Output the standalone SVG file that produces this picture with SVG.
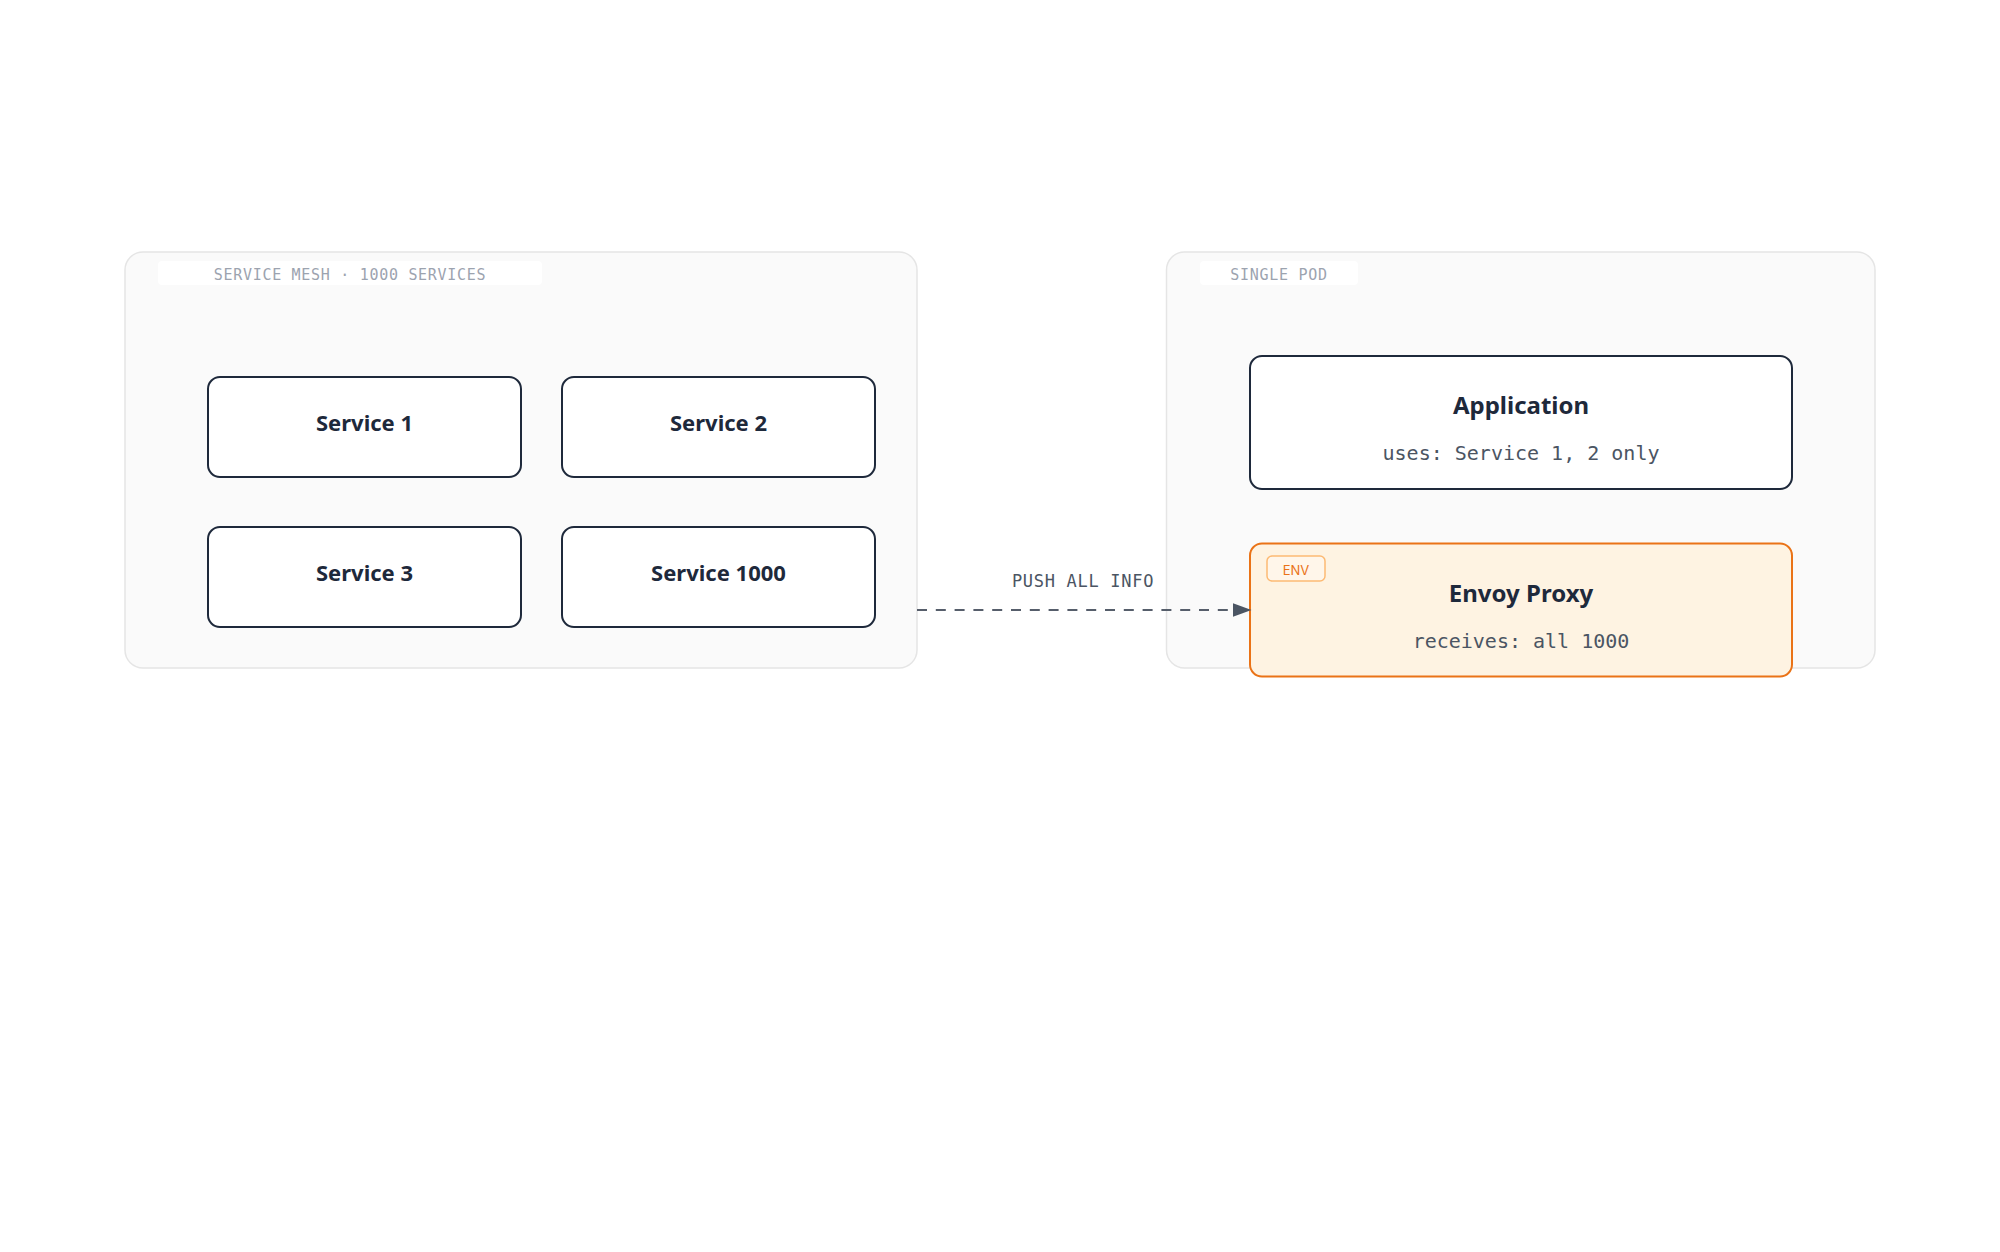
<svg xmlns="http://www.w3.org/2000/svg" width="2000" height="1252" viewBox="0 0 2000 1252">
  <style>
    .container { fill: #fafafa; stroke: #e5e5e5; stroke-width: 1.5; }
    .clabel-bg { fill: #ffffff; }
    .clabel { font-family: "DejaVu Sans Mono", "Liberation Mono", monospace; font-size: 15px; letter-spacing: 0.7px; fill: #9ca3af; text-anchor: middle; }
    .node { fill: #ffffff; stroke: #1e293b; stroke-width: 2; }
    .title { font-family: "Noto Sans", "Open Sans", sans-serif; font-weight: 700; fill: #1e293b; text-anchor: middle; }
    .sub { font-family: "DejaVu Sans Mono", "Liberation Mono", monospace; font-size: 20px; fill: #4b5563; text-anchor: middle; }
    .envoy { fill: #fef3e2; stroke: #ea7317; stroke-width: 2; }
    .badge { fill: #fff6ea; stroke: #fdba74; stroke-width: 1.5; }
    .badge-text { font-family: "Inter", "Noto Sans", sans-serif; font-size: 13px; fill: #ea7317; text-anchor: middle; }
    .edge { stroke: #565e6b; stroke-width: 2; stroke-dasharray: 10 8.8; fill: none; }
    .elabel { font-family: "DejaVu Sans Mono", "Liberation Mono", monospace; font-size: 17px; letter-spacing: 0.7px; fill: #4b5563; text-anchor: middle; }
  </style>
  <defs>
    <marker id="arrow" markerUnits="userSpaceOnUse" markerWidth="20" markerHeight="14" refX="19" refY="7" orient="auto">
      <path d="M0,0 L19,7 L0,14 z" fill="#4b5563"/>
    </marker>
  </defs>
  <rect width="2000" height="1252" fill="#ffffff"/>

  <g id="mesh">
    <rect class="container" x="125" y="252" width="792" height="416" rx="18"/>
    <rect class="clabel-bg" x="158" y="261" width="384" height="24" rx="4"/>
    <text class="clabel" x="350" y="280">SERVICE MESH · 1000 SERVICES</text>
  </g>
  <g id="pod">
    <rect class="container" x="1166.5" y="252" width="708.5" height="416" rx="18"/>
    <rect class="clabel-bg" x="1200" y="261" width="158" height="24" rx="4"/>
    <text class="clabel" x="1279" y="280">SINGLE POD</text>
  </g>

  <g id="service-1">
    <rect class="node" x="208" y="377" width="313" height="100" rx="12"/>
    <text class="title" x="364.5" y="431" font-size="22">Service 1</text>
  </g>
  <g id="service-2">
    <rect class="node" x="562" y="377" width="313" height="100" rx="12"/>
    <text class="title" x="718.5" y="431" font-size="22">Service 2</text>
  </g>
  <g id="service-3">
    <rect class="node" x="208" y="527" width="313" height="100" rx="12"/>
    <text class="title" x="364.5" y="581" font-size="22">Service 3</text>
  </g>
  <g id="service-1000">
    <rect class="node" x="562" y="527" width="313" height="100" rx="12"/>
    <text class="title" x="718.5" y="581" font-size="22">Service 1000</text>
  </g>

  <g id="application">
    <rect class="node" x="1250" y="356" width="542" height="133" rx="12"/>
    <text class="title" x="1521" y="414" font-size="24">Application</text>
    <text class="sub" x="1521" y="460">uses: Service 1, 2 only</text>
  </g>
  <g id="envoy">
    <rect class="envoy" x="1250" y="543.5" width="542" height="133" rx="12"/>
    <rect class="badge" x="1267" y="556" width="58" height="25" rx="5"/>
    <text class="badge-text" x="1296" y="574.5">ENV</text>
    <text class="title" x="1521" y="601.5" font-size="24">Envoy Proxy</text>
    <text class="sub" x="1521" y="648">receives: all 1000</text>
  </g>

  <g id="connectors">
    <line class="edge" x1="917" y1="610" x2="1251.5" y2="610" marker-end="url(#arrow)"/>
    <text class="elabel" x="1083" y="587">PUSH ALL INFO</text>
  </g>
</svg>
